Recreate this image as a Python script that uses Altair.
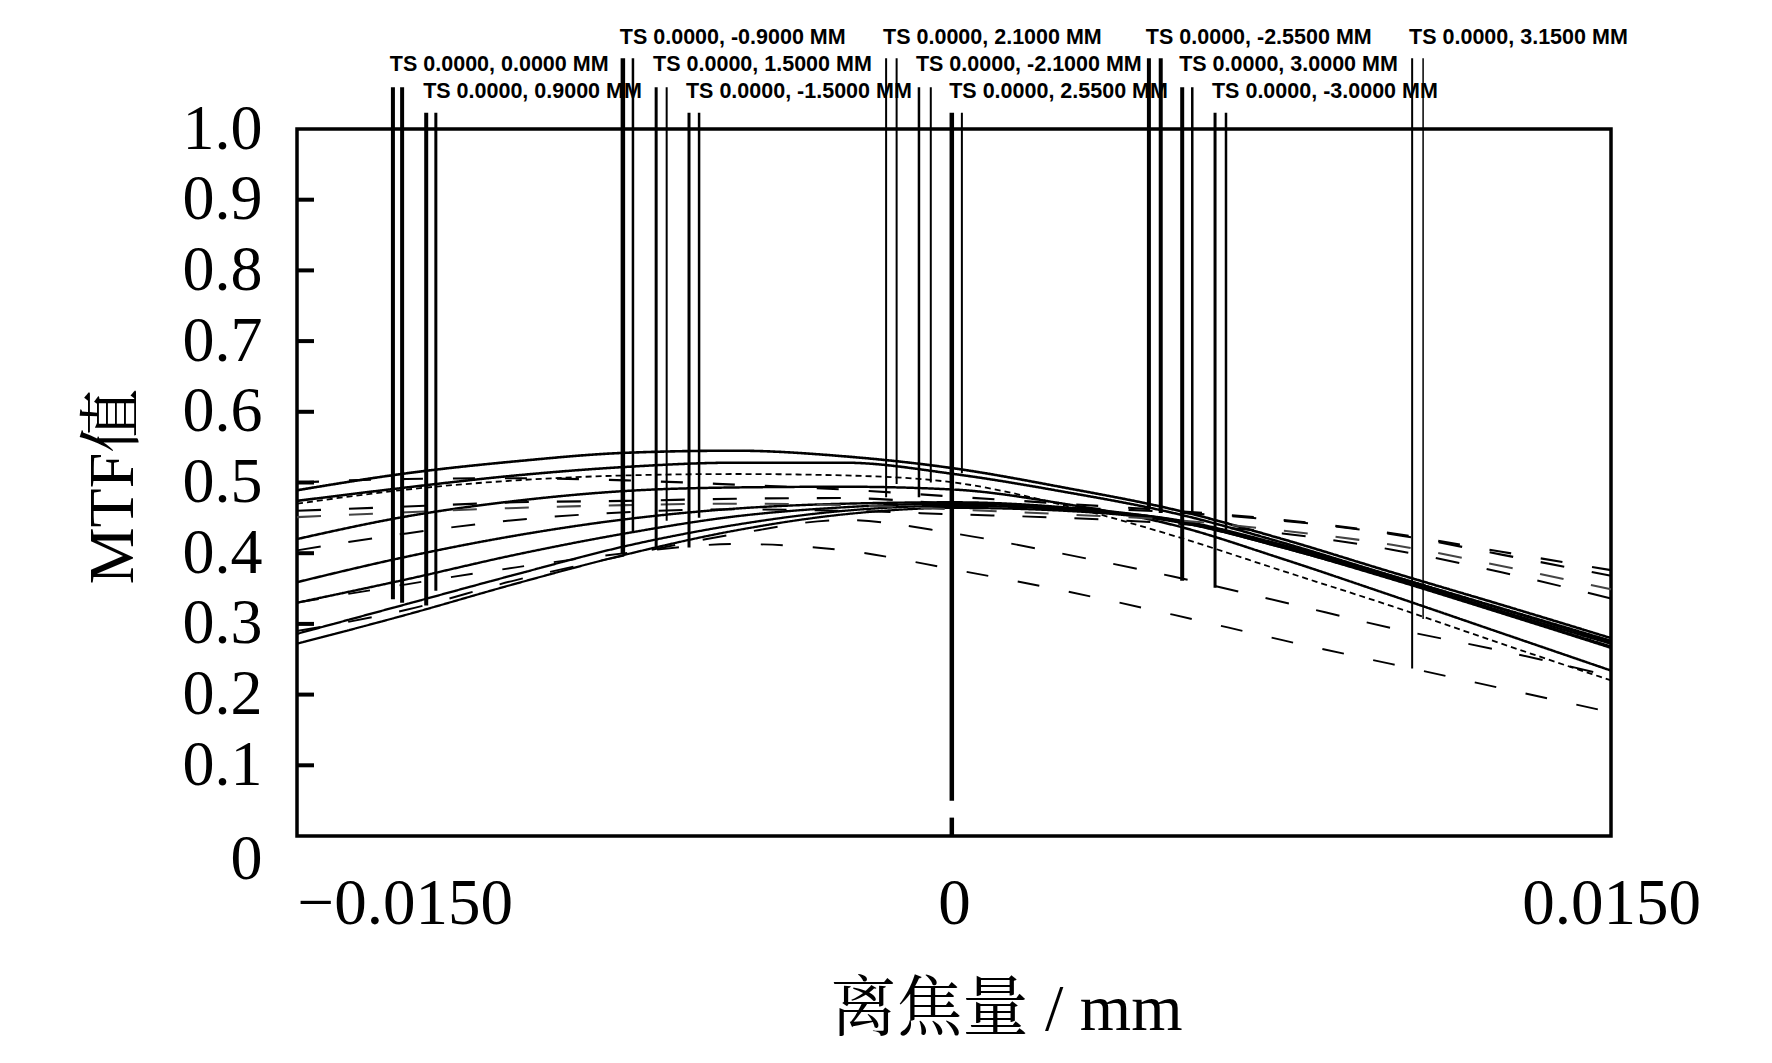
import altair as alt
import pandas as pd

# ---------------- data ----------------
focus_mm = [-0.015, -0.0125, -0.01, -0.0075, -0.005, -0.0025, 0.0, 0.0025, 0.005, 0.0075, 0.01, 0.0125, 0.015]

S1 = [0.489, 0.513, 0.530, 0.542, 0.545, 0.537, 0.520, 0.493, 0.462, 0.420, 0.373, 0.327, 0.280]
S2 = [0.474, 0.493, 0.510, 0.522, 0.528, 0.528, 0.512, 0.487, 0.457, 0.415, 0.368, 0.322, 0.276]
S3 = [0.420, 0.452, 0.474, 0.488, 0.493, 0.494, 0.490, 0.470, 0.440, 0.392, 0.340, 0.287, 0.234]
S4 = [0.359, 0.395, 0.425, 0.448, 0.463, 0.470, 0.472, 0.465, 0.447, 0.410, 0.366, 0.318, 0.272]
S5 = [0.330, 0.363, 0.398, 0.428, 0.452, 0.465, 0.470, 0.463, 0.446, 0.408, 0.364, 0.316, 0.268]
S6 = [0.286, 0.328, 0.370, 0.410, 0.440, 0.460, 0.467, 0.462, 0.448, 0.412, 0.368, 0.321, 0.274]
S7 = [0.272, 0.313, 0.357, 0.398, 0.432, 0.455, 0.464, 0.460, 0.445, 0.408, 0.363, 0.315, 0.266]
D1 = [0.500, 0.505, 0.506, 0.503, 0.497, 0.490, 0.480, 0.470, 0.460, 0.447, 0.428, 0.402, 0.376]
D2 = [0.460, 0.466, 0.472, 0.474, 0.477, 0.478, 0.470, 0.465, 0.458, 0.446, 0.427, 0.398, 0.368]
D3 = [0.451, 0.458, 0.464, 0.468, 0.470, 0.468, 0.462, 0.455, 0.447, 0.432, 0.412, 0.382, 0.349]
D4 = [0.404, 0.428, 0.447, 0.458, 0.462, 0.460, 0.455, 0.450, 0.442, 0.428, 0.405, 0.373, 0.336]
L1 = [0.290, 0.320, 0.362, 0.397, 0.427, 0.447, 0.428, 0.399, 0.367, 0.331, 0.294, 0.262, 0.226]
L2 = [0.330, 0.356, 0.380, 0.400, 0.413, 0.404, 0.377, 0.347, 0.313, 0.277, 0.243, 0.209, 0.175]
F1 = [0.470, 0.490, 0.503, 0.510, 0.512, 0.510, 0.500, 0.468, 0.425, 0.375, 0.325, 0.272, 0.220]

curve_names = ["S1", "S2", "S3", "S4", "S5", "S6", "S7", "D1", "D2", "D3", "D4", "L1", "L2", "F1"]
curve_values = [S1, S2, S3, S4, S5, S6, S7, D1, D2, D3, D4, L1, L2, F1]

# legend (field) annotations
field_heights = ["0.0000", "0.9000", "-0.9000", "1.5000", "-1.5000", "2.1000",
                 "-2.1000", "2.5500", "-2.5500", "3.0000", "-3.0000", "3.1500"]
field_label_x = [-0.01288, -0.01212, -0.00763, -0.00687, -0.00612, -0.00162,
                 -0.00087, -0.00011, 0.00438, 0.00514, 0.00589, 0.01039]
field_row = [2, 3, 1, 2, 3, 1, 2, 3, 1, 2, 3, 1]
t_line_x = [-0.01281, -0.01205, -0.00756, -0.00680, -0.00605, -0.00155,
            -0.00080, -0.00005, 0.00445, 0.00521, 0.00596, 0.01046]
s_line_x = [-0.01260, -0.01183, -0.00733, -0.00656, -0.00582, -0.00131,
            -0.00053, 0.00018, 0.00472, 0.00544, 0.00621, 0.01071]
t_line_end = [0.335, 0.326, 0.400, 0.406, 0.408, 0.479, 0.479, 0.050, 0.463, 0.361, 0.351, 0.237]
s_line_end = [0.330, 0.347, 0.430, 0.446, 0.450, 0.498, 0.500, 0.513, 0.457, 0.456, 0.432, 0.307]

y_ticks = [0.1, 0.2, 0.3, 0.4, 0.5, 0.6, 0.7, 0.8, 0.9]

# ---------------- styles ----------------
curve_width = [2.6, 1.8, 1.8, 2.2, 1.8, 4.5, 4.5, 1.6, 3.6, 2.2, 3.6, 3.6, 1.6, 1.3]
curve_dash = [[1, 0]] * 7 + [[22, 30], [24, 28], [24, 28], [24, 28], [24, 28], [22, 30], [6, 4]]
curve_color = ["#000"] * 9 + ["#444"] + ["#000"] * 4

t_width = [4, 4, 4.5, 3, 3, 2, 2.5, 4.5, 4, 4, 3, 2]
s_width = [4, 3, 2.5, 2, 2.5, 2, 2, 2, 4, 2.5, 2.5, 1.5]
row_label_y = {1: 1.129, 2: 1.091, 3: 1.052}
row_line_top = {1: 1.100, 2: 1.059, 3: 1.023}

SERIF = "Liberation Serif, Times New Roman, Noto Serif CJK SC, Noto Sans CJK SC, serif"
LEGEND_FONT = "Liberation Sans, Arial, sans-serif"

# ---------------- tables ----------------
rows = []
for name, vals in zip(curve_names, curve_values):
    for x, v in zip(focus_mm, vals):
        rows.append({"series": name, "x": x, "mtf": v})
curves_df = pd.DataFrame(rows)

lines = []
labels = []
for i, h in enumerate(field_heights):
    r = field_row[i]
    labels.append({"x": field_label_x[i], "mtf": row_label_y[r], "label": f"TS 0.0000, {h} MM"})
    lines.append({"x": t_line_x[i], "mtf": row_line_top[r], "bot": t_line_end[i], "w": t_width[i]})
    lines.append({"x": s_line_x[i], "mtf": row_line_top[r], "bot": s_line_end[i], "w": s_width[i]})
# lower piece of the long line at the 2.55 mm field
lines.append({"x": t_line_x[7], "mtf": 0.026, "bot": 0.0, "w": t_width[7]})
lines_df = pd.DataFrame(lines)
labels_df = pd.DataFrame(labels)
ticks_df = pd.DataFrame({"mtf": y_ticks})

xs = alt.Scale(domain=[-0.015, 0.015], nice=False, zero=False)
ys = alt.Scale(domain=[0, 1], nice=False, zero=False)

x_axis = alt.Axis(
    values=[-0.015, 0, 0.015],
    labelExpr="datum.value < -0.01 ? '\u22120.0150' : (datum.value > 0.01 ? '0.0150' : '0')",
    labelFont=SERIF, labelFontSize=65, labelColor="black", labelLimit=500,
    labelAlign={"condition": {"test": "datum.value < -0.01", "value": "left"}, "value": "center"},
    labelBaseline="top", labelPadding=36, labelFlush=False, labelOverlap=False,
    ticks=False, tickSize=0, domain=False, grid=False,
    title="离焦量 / mm", titleFont=SERIF, titleFontSize=66, titleFontWeight="normal",
    titleColor="black", titleX=709, titleY=173, titleAlign="center", titleBaseline="middle",
    titleLimit=800,
)
y_axis = alt.Axis(
    values=[0, 0.1, 0.2, 0.3, 0.4, 0.5, 0.6, 0.7, 0.8, 0.9, 1.0],
    labelExpr="datum.value == 0 ? '0' : format(datum.value, '.1f')",
    labelFont=SERIF, labelFontSize=64, labelColor="black", labelLimit=500,
    labelOffset={"condition": {"test": "datum.value == 0", "value": 23}, "value": 0},
    labelPadding=35, labelFlush=False, labelOverlap=False,
    ticks=False, tickSize=0, domain=False, grid=False,
    title="MTF值", titleFont=SERIF, titleFontSize=64, titleFontWeight="normal",
    titleColor="black", titleAngle=270, titleX=-184, titleY=357,
    titleAlign="center", titleBaseline="middle", titleLimit=800,
)

curves = alt.Chart(curves_df).mark_line(interpolate="monotone").encode(
    x=alt.X("x:Q", scale=xs, axis=x_axis),
    y=alt.Y("mtf:Q", scale=ys, axis=y_axis),
    detail="series:N",
    color=alt.Color("series:N", scale=alt.Scale(domain=curve_names, range=curve_color), legend=None),
    strokeWidth=alt.StrokeWidth("series:N", scale=alt.Scale(domain=curve_names, range=curve_width), legend=None),
    strokeDash=alt.StrokeDash("series:N", scale=alt.Scale(domain=curve_names, range=curve_dash), legend=None),
)

field_lines = alt.Chart(lines_df).mark_rule(color="black").encode(
    x=alt.X("x:Q", scale=xs),
    y=alt.Y("mtf:Q", scale=ys),
    y2="bot:Q",
    strokeWidth=alt.StrokeWidth("w:Q", scale=None),
)

field_labels = alt.Chart(labels_df).mark_text(
    align="left", baseline="middle", font=LEGEND_FONT, fontSize=21.5, fontWeight="bold", color="black"
).encode(
    x=alt.X("x:Q", scale=xs),
    y=alt.Y("mtf:Q", scale=ys),
    text="label:N",
)

inner_ticks = alt.Chart(ticks_df).mark_rule(color="black", strokeWidth=4).encode(
    y=alt.Y("mtf:Q", scale=ys),
    x=alt.value(0),
    x2=alt.value(17),
)

chart = alt.layer(curves, field_lines, field_labels, inner_ticks).properties(
    width=1314, height=707,
    autosize=alt.AutoSizeParams(type="none"),
    padding={"left": 289, "top": 121, "right": 153, "bottom": 219},
    background="white",
).configure_view(stroke="black", strokeWidth=3.5)

chart.save("out.html", embed_options={"renderer": "svg", "actions": False})
